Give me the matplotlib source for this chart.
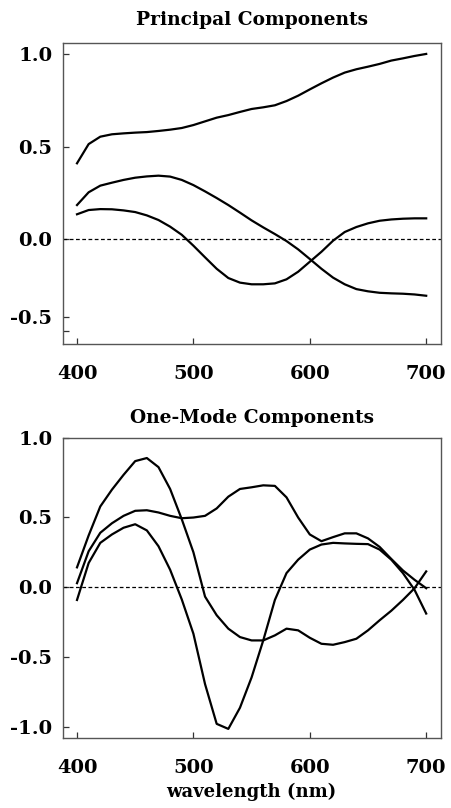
import numpy as np
import matplotlib
matplotlib.use('Agg')
import matplotlib.pyplot as plt

plt.rcParams['font.family'] = ['DejaVu Serif']

# wavelengths (nm)
wavelength = np.arange(400, 701, 10)

# principal components
pc1 = [0.41, 0.514, 0.554, 0.567, 0.572, 0.576, 0.579, 0.585, 0.592, 0.601,
       0.617, 0.637, 0.657, 0.671, 0.688, 0.704, 0.713, 0.724, 0.747, 0.776,
       0.810, 0.843, 0.874, 0.901, 0.919, 0.933, 0.948, 0.966, 0.978, 0.991, 1.002]
pc2 = [0.184, 0.253, 0.289, 0.305, 0.320, 0.332, 0.339, 0.343, 0.338, 0.320,
       0.292, 0.258, 0.222, 0.184, 0.143, 0.101, 0.063, 0.027, -0.011, -0.056,
       -0.108, -0.161, -0.209, -0.245, -0.271, -0.283, -0.291, -0.294, -0.296, -0.300, -0.307]
pc3 = [0.134, 0.157, 0.162, 0.161, 0.155, 0.146, 0.128, 0.103, 0.067, 0.023,
       -0.036, -0.099, -0.161, -0.211, -0.236, -0.245, -0.245, -0.240, -0.218, -0.177,
       -0.123, -0.069, -0.009, 0.038, 0.065, 0.085, 0.099, 0.106, 0.110, 0.112, 0.112]

# one-mode components
om1 = [0.142, 0.370, 0.577, 0.697, 0.803, 0.901, 0.923, 0.858, 0.702, 0.486,
       0.250, -0.067, -0.200, -0.296, -0.356, -0.380, -0.380, -0.344, -0.296, -0.308,
       -0.361, -0.404, -0.411, -0.392, -0.368, -0.308, -0.236, -0.168, -0.091, -0.007, 0.113]
om2 = [0.029, 0.257, 0.389, 0.457, 0.510, 0.546, 0.550, 0.534, 0.510, 0.493,
       0.498, 0.510, 0.563, 0.647, 0.702, 0.714, 0.728, 0.724, 0.642, 0.498,
       0.377, 0.329, 0.358, 0.385, 0.385, 0.349, 0.288, 0.202, 0.120, 0.053, -0.007]
om3 = [-0.091, 0.173, 0.317, 0.377, 0.425, 0.450, 0.406, 0.293, 0.125, -0.087,
       -0.332, -0.692, -0.976, -1.012, -0.861, -0.644, -0.380, -0.091, 0.101, 0.197,
       0.269, 0.305, 0.317, 0.313, 0.310, 0.308, 0.269, 0.197, 0.101, -0.019, -0.188]

x_ticks = [400, 500, 600, 700]
top_yticks = [1.0, 0.5, 0.0, -0.42, -0.5]
top_ylabels = ['1.0', '0.5', '0.0', '-0.5', '']
bot_yticks = [1.066, 0.5, 0.0, -0.5, -1.0]
bot_ylabels = ['1.0', '0.5', '0.0', '-0.5', '-1.0']

fig = plt.figure(figsize=(4.51, 8.08), dpi=100)
ax1 = fig.add_axes([0.139, 0.5743, 0.838, 0.3729])
ax2 = fig.add_axes([0.139, 0.0863, 0.838, 0.3716])


def style(ax, yticks, ylabels, ylim, title, title_pad):
    ax.set_xlim(387.7, 712.4)
    ax.set_ylim(*ylim)
    ax.axhline(0, color='k', linestyle=(0, (3, 2)), linewidth=0.9)
    ax.set_xticks(x_ticks)
    ax.set_xticklabels([str(t) for t in x_ticks], fontweight='bold')
    ax.set_yticks(yticks)
    ax.set_yticklabels(ylabels, fontweight='bold')
    ax.tick_params(direction='in', length=4.5, width=0.9, color='#333333',
                   labelsize=14, top=False, right=False)
    ax.tick_params(axis='x', pad=15)
    ax.tick_params(axis='y', pad=7.5)
    for s in ax.spines.values():
        s.set_color('#555555')
        s.set_linewidth(1.0)
    ax.set_title(title, fontsize=13.4, fontweight='bold', pad=title_pad)


for y in (pc1, pc2, pc3):
    ax1.plot(wavelength, y, color='k', linewidth=1.6)
style(ax1, top_yticks, top_ylabels, (-0.568, 1.063), 'Principal Components', 13)

for y in (om1, om2, om3):
    ax2.plot(wavelength, y, color='k', linewidth=1.6)
style(ax2, bot_yticks, bot_ylabels, (-1.079, 1.066), 'One-Mode Components', 11)
ax2.set_xlabel('wavelength (nm)', fontsize=13, fontweight='bold', labelpad=4)

fig.savefig('out.png', dpi=100)
